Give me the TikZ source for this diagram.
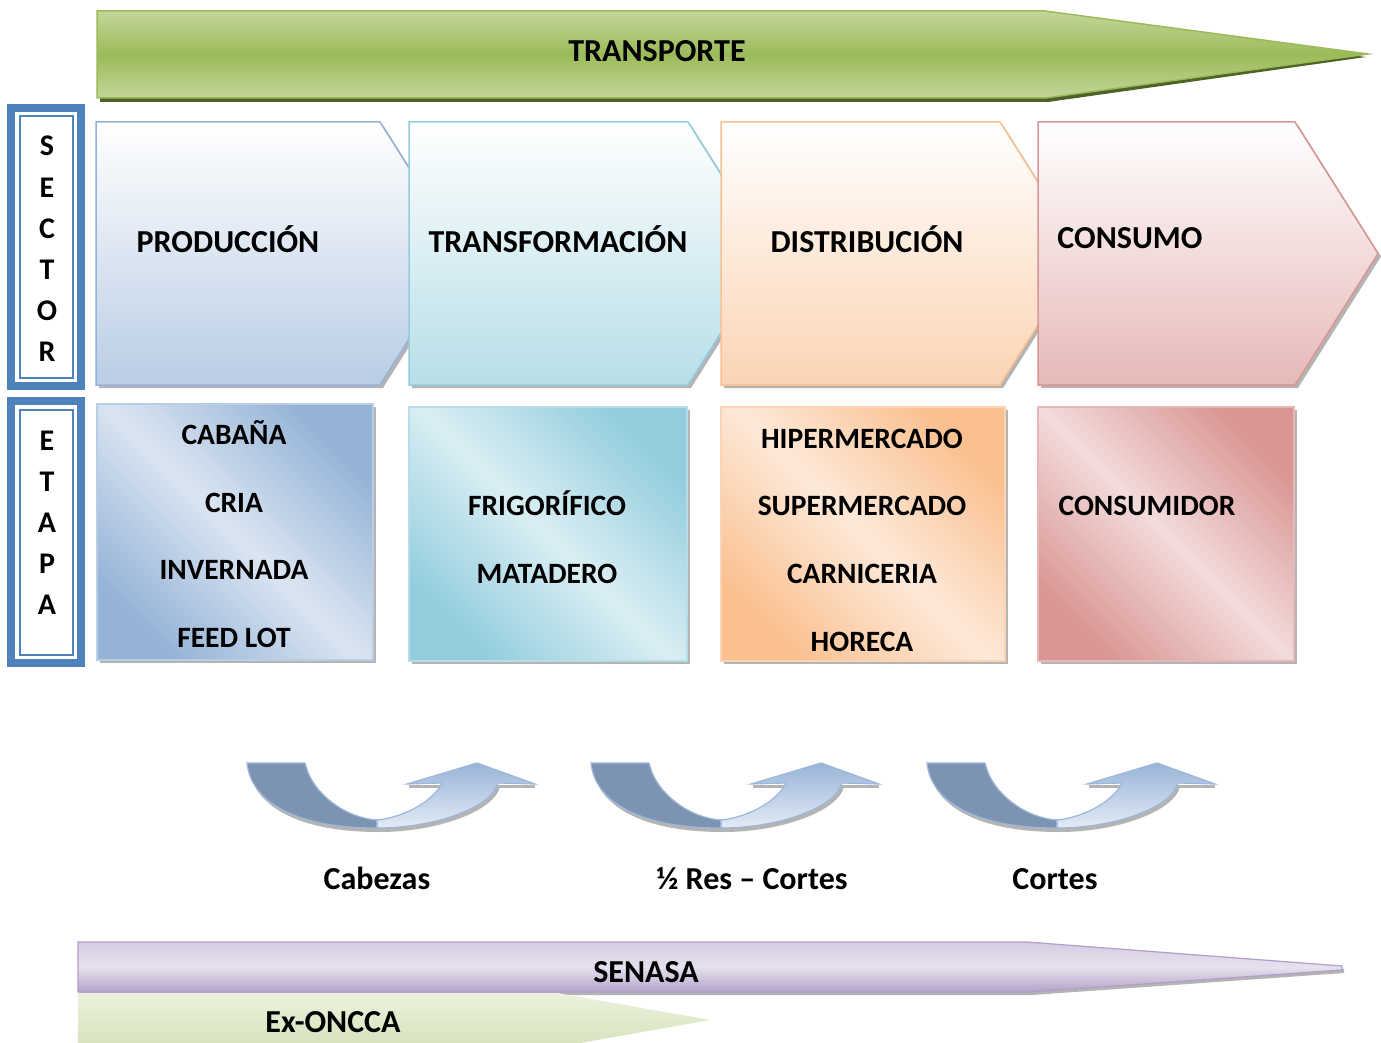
\documentclass[tikz,border=0pt]{standalone}
\usepackage{fontspec}
\setmainfont{Carlito}
\definecolor{secblue}{HTML}{4F81BD}
\definecolor{gA}{HTML}{C3D69B}
\definecolor{gB}{HTML}{9BBB59}
\definecolor{gS}{HTML}{4F6228}
\definecolor{bL}{HTML}{95B3D7}
\definecolor{bF}{HTML}{B9CDE5}
\definecolor{bM}{HTML}{DBE5F1}
\definecolor{aL}{HTML}{93CDDD}
\definecolor{aF}{HTML}{B7DEE8}
\definecolor{aM}{HTML}{DAEEF3}
\definecolor{oL}{HTML}{FAC090}
\definecolor{oF}{HTML}{FBD4B4}
\definecolor{oM}{HTML}{FDE9D9}
\definecolor{rL}{HTML}{D99694}
\definecolor{rF}{HTML}{E6B9B8}
\definecolor{rM}{HTML}{F2DCDB}
\definecolor{arrdark}{HTML}{7D93B2}
\definecolor{arrline}{HTML}{9DB6D9}
\definecolor{arrhead}{HTML}{98B4D8}
\definecolor{arrpale}{HTML}{E4EBF5}
\definecolor{pT}{HTML}{D5CCE2}
\definecolor{pM}{HTML}{E6E1EE}
\definecolor{pB}{HTML}{B3A2C7}
\definecolor{pL}{HTML}{B09FC6}
\definecolor{eT}{HTML}{EBF1DE}
\definecolor{eB}{HTML}{D7E4BD}
\definecolor{shd}{HTML}{B4B4B4}
\begin{document}
\begin{tikzpicture}[x=1pt,y=-1pt,
  lbl/.style={font=\bfseries\fontsize{32}{36}\selectfont, anchor=base, inner sep=0pt},
  lbltwo/.style={font=\bfseries\fontsize{29.5}{34}\selectfont, anchor=base, inner sep=0pt},
  lett/.style={font=\bfseries\fontsize{30}{34}\selectfont, anchor=base, inner sep=0pt},
  chevshadow/.style={fill=shd},
  boxshadow/.style={fill=shd},
  curvearrow/.pic={
    \fill[shd] (3,5) -- (61,5) .. controls (68,36) and (102,60) .. (133,62) -- (133,70) .. controls (52,70) and (7,44) .. (3,5) -- cycle;
    \fill[shd] (133,62) -- (254,25) .. controls (248,49) and (192,70) .. (133,70) -- cycle;
    \fill[shd] (163,23) -- (289,23) -- (289,26) -- (163,26) -- cycle;
    \path[fill=arrdark, draw=arrline, line width=1.2pt] (1,1) -- (59,1) .. controls (66,32) and (100,56) .. (131,58) -- (131,66) .. controls (50,66) and (5,40) .. (1,1) -- cycle;
    \path[top color=arrhead, bottom color=arrpale, draw=arrline, line width=1.2pt] (131,58) .. controls (160,55) and (188,38) .. (196,21) -- (161,22) -- (231,1) -- (289,22) -- (252,21) .. controls (246,45) and (190,66) .. (131,66) -- cycle;
  }
]
\useasboundingbox[fill=white] (0,0) rectangle (1381,1043);

% TRANSPORTE
\fill[gS] (100,15) -- (1048,15) -- (1366,57) -- (1048,102) -- (100,102) -- cycle;
\path[top color=gA, bottom color=gA, middle color=gB, draw=gB, line width=1.5pt]
  (97,11) -- (1045,11) -- (1368,54) -- (1045,98) -- (97,98) -- cycle;
\node[lbl] (transporte) at (657,62) {TRANSPORTE};

% SECTOR / ETAPA frames
\fill[secblue] (7,104) rectangle (85,390);
\fill[white] (15,112) rectangle (77,382);
\draw[secblue, line width=2pt] (19.5,116.5) rectangle (72.5,377.5);
\fill[secblue] (7,397) rectangle (85,667);
\fill[white] (15,405) rectangle (77,659);
\draw[secblue, line width=2pt] (19.5,409.5) rectangle (72.5,654.5);
\node[lett] (s1) at (47,156) {S};
\node[lett] (s2) at (47,197) {E};
\node[lett] (s3) at (47,238) {C};
\node[lett] (s4) at (47,279) {T};
\node[lett] (s5) at (47,320) {O};
\node[lett] (s6) at (47,361) {R};
\node[lett] (e1) at (47,450) {E};
\node[lett] (e2) at (47,491) {T};
\node[lett] (e3) at (47,532) {A};
\node[lett] (e4) at (47,573) {P};
\node[lett] (e5) at (47,614) {A};

% Chevrons
\fill[chevshadow] (99,125) -- (383,125) -- (466,256.5) -- (383,388) -- (99,388) -- cycle;
\path[top color=white, bottom color=bF, draw=bL, line width=1.5pt]
  (96,122) -- (380,122) -- (463,253.5) -- (380,385) -- (96,385) -- cycle;
\fill[chevshadow] (412,125) -- (691,125) -- (774,256.5) -- (691,388) -- (412,388) -- cycle;
\path[top color=white, bottom color=aF, draw=aL, line width=1.5pt]
  (409,122) -- (688,122) -- (771,253.5) -- (688,385) -- (409,385) -- cycle;
\fill[chevshadow] (724,125) -- (1003,125) -- (1086,256.5) -- (1003,388) -- (724,388) -- cycle;
\path[top color=white, bottom color=oF, draw=oL, line width=1.5pt]
  (721,122) -- (1000,122) -- (1083,253.5) -- (1000,385) -- (721,385) -- cycle;
\fill[chevshadow] (1041,125) -- (1298,125) -- (1381,256.5) -- (1298,388) -- (1041,388) -- cycle;
\path[top color=white, bottom color=rF, draw=rL, line width=1.5pt]
  (1038,122) -- (1295,122) -- (1378,253.5) -- (1295,385) -- (1038,385) -- cycle;
\node[lbl] (prod) at (228,252) {PRODUCCIÓN};
\node[lbl] (trans) at (558,252) {TRANSFORMACIÓN};
\node[lbl] (dist) at (867,252) {DISTRIBUCIÓN};
\node[lbl] (cons) at (1130,248) {CONSUMO};

% Stage boxes
\fill[boxshadow] (100,407) rectangle (376,663);
\path[left color=bL, right color=bL, middle color=bM, shading angle=135, draw=bF, line width=1.5pt]
  (97,404) rectangle (373,660);
\fill[boxshadow] (412,410) rectangle (690,664);
\path[left color=aL, right color=aL, middle color=aM, shading angle=135, draw=aF, line width=1.5pt]
  (409,407) rectangle (687,661);
\fill[boxshadow] (724,410) rectangle (1008,664);
\path[left color=oL, right color=oL, middle color=oM, shading angle=135, draw=oF, line width=1.5pt]
  (721,407) rectangle (1005,661);
\fill[boxshadow] (1041,410) rectangle (1297,664);
\path[left color=rL, right color=rL, middle color=rM, shading angle=135, draw=rF, line width=1.5pt]
  (1038,407) rectangle (1294,661);

\node[lbltwo] (cabana) at (234,444) {CABAÑA};
\node[lbltwo] (cria) at (234,512) {CRIA};
\node[lbltwo] (inver) at (234,579) {INVERNADA};
\node[lbltwo] (feed) at (234,647) {FEED LOT};
\node[lbltwo] (frigo) at (547,515) {FRIGORÍFICO};
\node[lbltwo] (mata) at (547,583) {MATADERO};
\node[lbltwo] (hiper) at (862,448) {HIPERMERCADO};
\node[lbltwo] (super) at (862,515) {SUPERMERCADO};
\node[lbltwo] (carni) at (862,583) {CARNICERIA};
\node[lbltwo] (horeca) at (862,651) {HORECA};
\node[lbltwo] (consu) at (1147,515) {CONSUMIDOR};

% Curved arrows
\pic (ca1) at (246,762) {curvearrow};
\pic (ca2) at (590,762) {curvearrow};
\pic (ca3) at (926,762) {curvearrow};
\node[lbl] (cabezas) at (377,889) {Cabezas};
\node[lbl] (res) at (752,889) {½ Res – Cortes};
\node[lbl] (cortes) at (1055,889) {Cortes};

% SENASA
\fill[shd] (80,945) -- (1029,945) -- (1344,969) -- (1344,973) -- (1032,995) -- (80,995) -- cycle;
\path[top color=pT, bottom color=pB, middle color=pM, draw=pL, line width=1.2pt]
  (78,942) -- (1027,942) -- (1342,966) -- (1342,970) -- (1030,992) -- (78,992) -- cycle;
\node[lbl] (senasa) at (646,982) {SENASA};

% Ex-ONCCA
\path[top color=eT, bottom color=eB]
  (78,993) -- (557,993) -- (710,1020) -- (580,1043) -- (78,1043) -- cycle;
\node[lbl] (oncca) at (333,1032) {Ex-ONCCA};
\end{tikzpicture}
\end{document}
